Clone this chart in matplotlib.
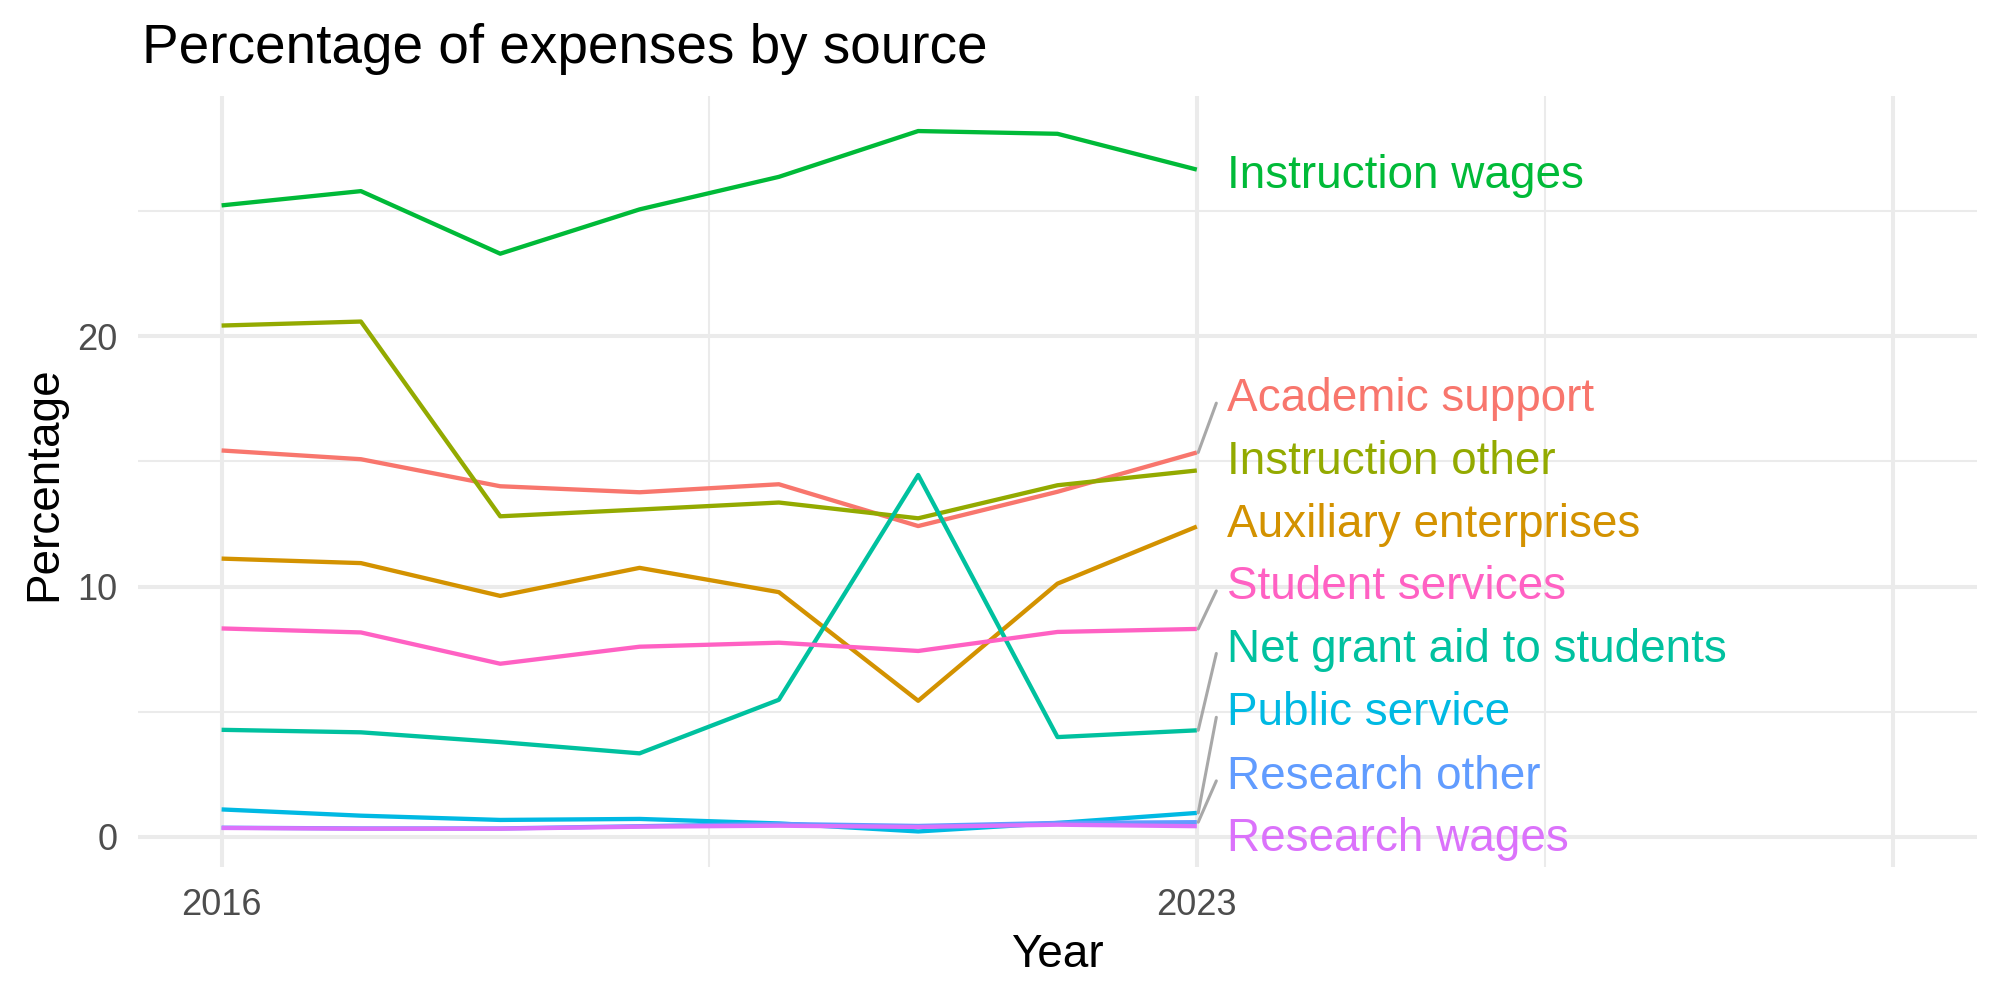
import matplotlib
matplotlib.use("Agg")
import matplotlib.pyplot as plt
import numpy as np

plt.rcParams['font.family'] = ['Liberation Sans', 'DejaVu Sans']

years = [2016, 2017, 2018, 2019, 2020, 2021, 2022, 2023]

series_names = [
    "Academic support", "Auxiliary enterprises", "Instruction other",
    "Instruction wages", "Net grant aid to students", "Public service",
    "Research other", "Research wages", "Student services",
]
academic_support = [15.44, 15.09, 14.01, 13.77, 14.09, 12.42, 13.79, 15.36]
auxiliary_enterprises = [11.12, 10.94, 9.63, 10.75, 9.78, 5.44, 10.12, 12.40]
instruction_other = [20.43, 20.59, 12.81, 13.08, 13.36, 12.73, 14.05, 14.64]
instruction_wages = [25.23, 25.80, 23.30, 25.07, 26.37, 28.20, 28.09, 26.66]
net_grant_aid = [4.28, 4.18, 3.79, 3.34, 5.48, 14.46, 3.99, 4.26]
public_service = [1.10, 0.85, 0.68, 0.72, 0.54, 0.22, 0.56, 0.96]
research_other = [0.37, 0.34, 0.34, 0.43, 0.52, 0.44, 0.56, 0.59]
research_wages = [0.36, 0.33, 0.33, 0.41, 0.45, 0.40, 0.49, 0.43]
student_services = [8.33, 8.17, 6.92, 7.60, 7.76, 7.43, 8.19, 8.31]

series_values = [
    academic_support, auxiliary_enterprises, instruction_other,
    instruction_wages, net_grant_aid, public_service,
    research_other, research_wages, student_services,
]
colors = ["#F8766D", "#D39200", "#93AA00", "#00BA38", "#00C19F",
          "#00B9E3", "#619CFF", "#DB72FB", "#FF61C3"]

# repelled label centres (layout)
label_centers = [17.66, 12.65, 15.15, 26.60, 7.66, 5.11, 2.57, 0.08, 10.16]

x_major = [2016, 2023, 2028]
x_major_labels = ["2016", "2023", ""]
x_minor = [2019.5, 2025.5]
y_major = [0, 10, 20]
y_minor = [5, 15, 25]

W, H = 2000, 1000
fig = plt.figure(figsize=(20, 10), dpi=100)
left, right, top, bottom = 138, 1977, 96, 867
ax = fig.add_axes([left / W, 1 - bottom / H, (right - left) / W, (bottom - top) / H])
ax.set_xlim(2015.4, 2028.6)
ax.set_ylim(-1.2, 29.6)
for s in ax.spines.values():
    s.set_visible(False)

grid_c = "#EBEBEB"
for v in x_minor:
    ax.axvline(v, color=grid_c, lw=1.45, zorder=0)
for v in y_minor:
    ax.axhline(v, color=grid_c, lw=1.45, zorder=0)
for v in x_major:
    ax.axvline(v, color=grid_c, lw=2.9, zorder=0)
for v in y_major:
    ax.axhline(v, color=grid_c, lw=2.9, zorder=0)

ax.set_xticks(x_major)
ax.set_xticklabels(x_major_labels)
ax.set_yticks(y_major)
ax.set_yticklabels([str(v) for v in y_major])
ax.tick_params(axis='both', length=0, pad=15, labelsize=26, labelcolor="#4D4D4D")

for vals, c in zip(series_values, colors):
    ax.plot(years, vals, color=c, lw=3.1, solid_capstyle='butt', zorder=2)

# labels
fs = 33
cap_px = 0.716 * fs * 100 / 72
px_per_unit = (bottom - top) / (29.6 - (-1.2))
half_cap = cap_px / 2 / px_per_unit
label_x = 2023.22
seg_x = 2023.14
for name, vals, c, lc in zip(series_names, series_values, colors, label_centers):
    end = vals[-1]
    if abs(lc - end) > 1.0:
        ax.plot([years[-1] + 0.01, seg_x], [end, lc - 0.33], color="#A8A8A8",
                lw=2.2, solid_capstyle='round', zorder=3)
    ax.text(label_x, lc - half_cap, name, color=c, fontsize=fs,
            ha='left', va='baseline', zorder=4)

fig.text(141.6 / W, 1 - 62.7 / H, "Percentage of expenses by source",
         fontsize=39.5, ha='left', va='baseline', color='black')
fig.text(1057 / W, 1 - 967 / H, "Year", fontsize=33, ha='center',
         va='baseline', color='black')
fig.text(56 / W, 1 - 483.5 / H, "Percentage", fontsize=33, rotation=90,
         rotation_mode='anchor', ha='center', va='baseline', color='black')

fig.savefig("out.png", dpi=100, facecolor='white')
